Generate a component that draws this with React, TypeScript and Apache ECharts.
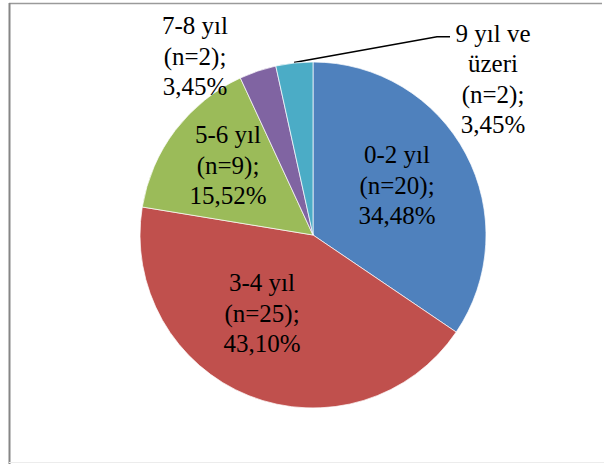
import React, { useEffect, useRef } from "react";
import * as echarts from "echarts";

const categories = ["0-2 yıl", "3-4 yıl", "5-6 yıl", "7-8 yıl", "9 yıl ve üzeri"];
const labelNames = ["0-2 yıl", "3-4 yıl", "5-6 yıl", "7-8 yıl", "9 yıl ve\nüzeri"];
const counts = [20, 25, 9, 2, 2];
const colors = ["#4F81BD", "#C0504D", "#9BBB59", "#8064A2", "#4BACC6"];

const labelPos = [
  { x: 397, y: 185 },
  { x: 262, y: 313 },
  { x: 228, y: 165 },
  { x: 195, y: 56 },
  { x: 493, y: 79 },
];

const FONT = "Liberation Serif";

export default function App() {
  const ref = useRef<HTMLDivElement>(null);
  useEffect(() => {
    if (!ref.current) return;
    const chart = echarts.init(ref.current, undefined, { renderer: "svg" });
    const total = counts.reduce((a, b) => a + b, 0);
    chart.setOption({
      animation: false,
      backgroundColor: "#ffffff",
      textStyle: { fontFamily: FONT },
      graphic: [
        { type: "line", shape: { x1: 9, y1: 3.5, x2: 602, y2: 3.5 }, style: { stroke: "#9a9a9a", lineWidth: 1.5 } },
        { type: "line", shape: { x1: 9.5, y1: 3, x2: 9.5, y2: 464 }, style: { stroke: "#868686", lineWidth: 2 } },
        { type: "line", shape: { x1: 9, y1: 462.5, x2: 604, y2: 462.5 }, style: { stroke: "#ececec", lineWidth: 1 } },
      ],
      series: [
        {
          type: "pie",
          center: [313, 235],
          radius: 173,
          startAngle: 90,
          clockwise: true,
          avoidLabelOverlap: false,
          itemStyle: { borderColor: "#ffffff", borderWidth: 0.7 },
          label: {
            show: true,
            position: "outside",
            color: "#000000",
            fontFamily: FONT,
            fontSize: 25,
            lineHeight: 30.5,
            align: "center",
            formatter: (p: any) => {
              const pct = ((counts[p.dataIndex] / total) * 100).toFixed(2).replace(".", ",");
              const lines = `${labelNames[p.dataIndex]}\n(n=${counts[p.dataIndex]});\n${pct}%`.split("\n");
              return lines.map((l) => `{t|${l}}`).join("\n");
            },
            rich: {
              t: {
                fontFamily: FONT,
                fontSize: 25,
                lineHeight: 30.5,
                color: "#000000",
                align: "center",
              },
            },
          },
          labelLine: { show: false },
          labelLayout: (params: any) => {
            const i = params.dataIndex;
            const res: any = {
              x: labelPos[i].x,
              y: labelPos[i].y,
              align: "center",
              verticalAlign: "middle",
            };
            if (i === 4) {
              res.labelLinePoints = [
                [294, 62.5],
                [437, 36.7],
                [450, 36.7],
              ];
            }
            return res;
          },
          data: categories.map((c, i) => ({
            name: c,
            value: counts[i],
            itemStyle: { color: colors[i] },
            labelLine:
              i === 4
                ? { show: true, length: 10, length2: 10, lineStyle: { color: "#000000", width: 1.5 } }
                : { show: false },
          })),
        },
      ],
    });
    return () => chart.dispose();
  }, []);
  return (
    <div
      ref={ref}
      style={{ position: "fixed", left: 0, top: 0, width: 604, height: 464 }}
    />
  );
}
